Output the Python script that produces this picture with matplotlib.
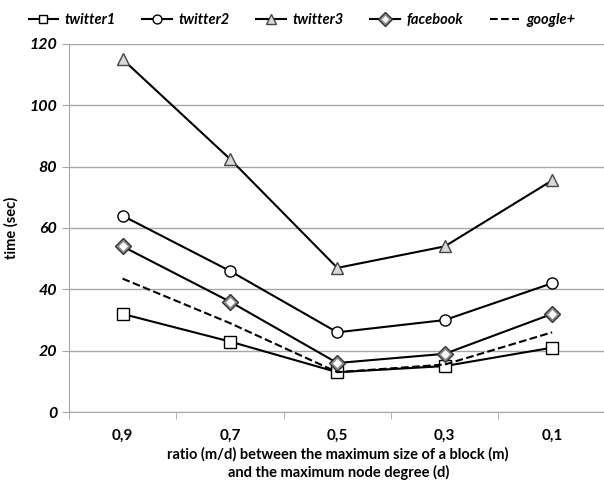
import numpy as np
import matplotlib
matplotlib.use("Agg")
import matplotlib.pyplot as plt

plt.rcParams['font.family'] = ['Lato', 'DejaVu Sans']

ratios = ['0,9', '0,7', '0,5', '0,3', '0,1']
twitter1 = [32, 23, 13, 15, 21]
twitter2 = [64, 46, 26, 30, 42]
twitter3 = [115, 82.5, 47, 54, 75.5]
facebook = [54, 36, 16, 19, 32]
google = [43.5, 29, 13, 15.5, 26]

x = np.arange(len(ratios))

fig = plt.figure(figsize=(6.04, 4.82), dpi=100)
ax = fig.add_axes([0.114, 0.145, 0.889, 0.764])

h1, = ax.plot(x, twitter1, '-k', lw=1.5, marker='s', ms=8, mfc='white', mec='black', mew=1.0)
h2, = ax.plot(x, twitter2, '-k', lw=1.5, marker='o', ms=8, mfc='white', mec='black', mew=1.0)
h3, = ax.plot(x, twitter3, '-k', lw=1.5, marker='^', ms=9, mfc='#d9d9d9', mec='#444444', mew=1.0)
h4, = ax.plot(x, facebook, '-k', lw=1.5, marker='D', ms=8.5, mfc='#8c8c8c', mec='#333333', mew=1.0)
h4b, = ax.plot(x, facebook, ls='none', marker='D', ms=4, mfc='white', mec='white', mew=0.5)
h5, = ax.plot(x, google, '--k', lw=1.5)

ax.set_xlim(-0.5, 4.5)
ax.set_ylim(0, 120)
ax.set_yticks(np.arange(0, 121, 20))
ax.yaxis.grid(True, color='#a6a6a6', lw=1)
ax.set_axisbelow(True)

ax.set_xticks(x)
ax.set_xticklabels(ratios, fontweight='bold', fontsize=11)
ax.set_xticks(np.arange(-0.5, 4.6, 1), minor=True)
ax.tick_params(axis='x', which='major', length=0, pad=12)
ax.tick_params(axis='x', which='minor', length=5, color='#a6a6a6')
ax.tick_params(axis='y', length=5, color='#a6a6a6', labelsize=11.5)
for lab in ax.get_yticklabels():
    lab.set_fontweight('bold')
    lab.set_fontstyle('italic')

for s in ['top', 'right']:
    ax.spines[s].set_visible(False)
for s in ['left', 'bottom']:
    ax.spines[s].set_color('#a6a6a6')

ax.set_ylabel('time (sec)', fontweight='bold', fontsize=10.5, labelpad=8)
fig.text(0.56, 0.038, 'ratio (m/d) between the maximum size of a block (m)\nand the maximum node degree (d)',
         ha='center', va='center', fontweight='bold', fontsize=10.5, linespacing=1.25)

fig.legend([h1, h2, h3, (h4, h4b), h5], ['twitter1', 'twitter2', 'twitter3', 'facebook', 'google+'],
           loc='upper center', bbox_to_anchor=(0.5, 1.0), ncol=5, frameon=False,
           prop={'weight': 'bold', 'style': 'italic', 'size': 10.5},
           handlelength=2.0, handletextpad=0.5, columnspacing=1.8, markerscale=0.8)

fig.savefig('out.png', dpi=100)
